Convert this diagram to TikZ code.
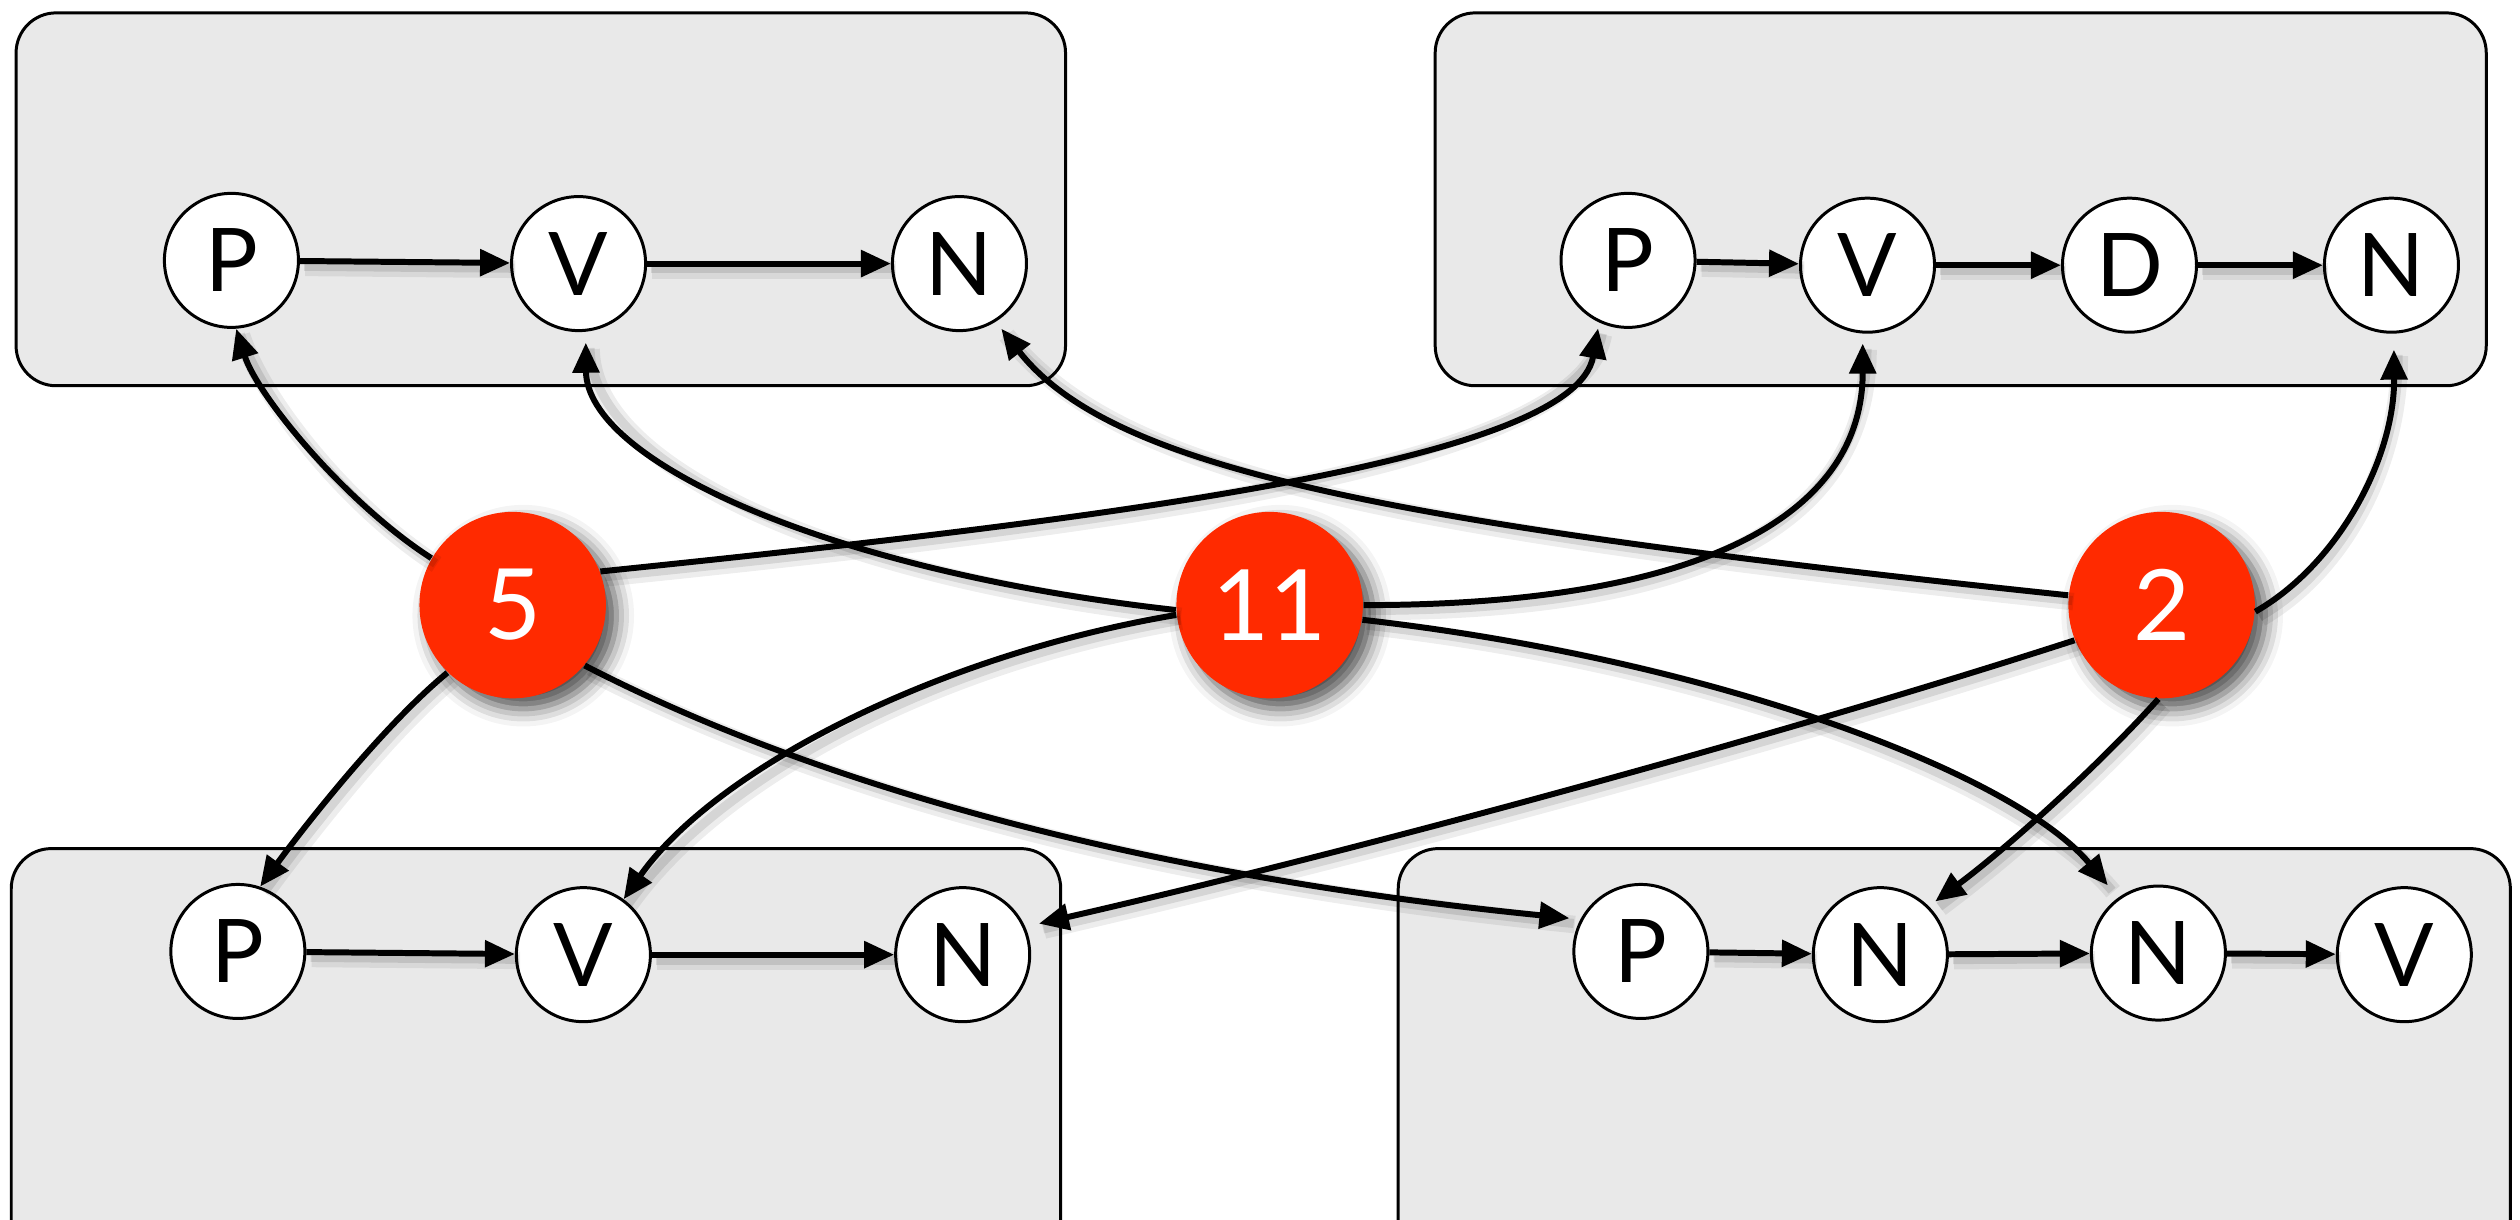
\documentclass[tikz,border=0pt]{standalone}
\usepackage{fontspec}
\setmainfont{Lato}
\usetikzlibrary{arrows.meta,shadows.blur}
\definecolor{panelgray}{RGB}{233,233,233}
\definecolor{countred}{RGB}{255,42,0}
\begin{document}
\begin{tikzpicture}[x=0.0160714cm,y=-0.0160714cm,
  panel/.style={draw=black, line width=0.85pt, fill=panelgray, rounded corners=0.4cm},
  tag/.style={circle, draw=black, line width=0.85pt, fill=white, minimum size=1.34cm,
    inner sep=0pt, font=\fontsize{25}{25}\selectfont},
  count/.style={circle, fill=countred, minimum size=1.864cm, inner sep=0pt, text=white,
    font=\fontsize{28}{28}\selectfont,
    blur shadow={shadow xshift=3pt, shadow yshift=-3pt, shadow blur radius=5pt, shadow opacity=70}},
  link/.style={line width=1.7pt, -{Triangle[length=0.3cm,width=0.26cm]},
    preaction={draw=black, -, opacity=0.07, line width=5pt,
      transform canvas={shift={(1.5pt,-1.8pt)}}},
    preaction={draw=black, -, opacity=0.1, line width=2.6pt,
      transform canvas={shift={(1.2pt,-1.5pt)}}}},
]
\clip (0,0) rectangle (1568,758.5);

% four sentence panels (the lower two run past the bottom edge)
\draw[panel] (10,8) rectangle (663,240);
\draw[panel] (893,8) rectangle (1547,240);
\draw[panel] (7,528) rectangle (660,800);
\draw[panel] (870,528) rectangle (1562,800);

% tag chains
\node[tag] (a1) at (144,162) {P};
\node[tag] (a2) at (360,164) {V};
\node[tag] (a3) at (597,164) {N};

\node[tag] (b1) at (1013,162) {P};
\node[tag] (b2) at (1162,165) {V};
\node[tag] (b3) at (1325,165) {D};
\node[tag] (b4) at (1488,165) {N};

\node[tag] (c1) at (148,592) {P};
\node[tag] (c2) at (363,594) {V};
\node[tag] (c3) at (599,594) {N};

\node[tag] (d1) at (1021,592) {P};
\node[tag] (d2) at (1170,594) {N};
\node[tag] (d3) at (1343,593) {N};
\node[tag] (d4) at (1496,594) {V};

\draw[link] (a1) -- (a2);
\draw[link] (a2) -- (a3);
\draw[link] (b1) -- (b2);
\draw[link] (b2) -- (b3);
\draw[link] (b3) -- (b4);
\draw[link] (c1) -- (c2);
\draw[link] (c2) -- (c3);
\draw[link] (d1) -- (d2);
\draw[link] (d2) -- (d3);
\draw[link] (d3) -- (d4);

% counts
\node[count] (r5) at (319,376.5) {5};
\node[count] (r11) at (790,376.5) {11};
\node[count] (r2) at (1345,376.5) {2};

% links from the count 5
\draw[link] (r5.150) .. controls (215,313) and (160,246) .. (a1.-86);
\draw[link, shorten >=0.06cm] (r5.21) .. controls (700,322) and (980,286) .. (b1.-115);
\draw[link] (r5.-134) .. controls (240,450) and (191,512) .. (c1.71);
\draw[link, shorten >=0.11cm] (r5.-40) .. controls (540,505) and (764,550) .. (d1.152);

% links from the count 11
\draw[link, shorten >=0.11cm] (r11.183) .. controls (512,355) and (365,286) .. (a2.-84);
\draw[link, shorten >=0.1cm] (r11.0) .. controls (1060,376.5) and (1159,320) .. (b2.-94);
\draw[link] (r11.186) .. controls (582.6,407.8) and (445,478.6) .. (c2.54);
\draw[link, shorten >=0.16cm] (r11.-9) .. controls (1063,410) and (1252,480) .. (d3.126);

% links from the count 2
\draw[link, shorten >=0.09cm] (r2.174) .. controls (851,324.5) and (690,290) .. (a3.-58);
\draw[link, shorten >=0.16cm] (r2.-4) .. controls (1455,351) and (1490,285) .. (b4.-88);
\draw[link, shorten >=0.14cm] (r2.202) .. controls (1110.6,456.7) and (850,528) .. (c3.24);
\draw[link, shorten >=0.08cm] (r2.-92) .. controls (1307,475) and (1251,526) .. (d2.45);
\end{tikzpicture}
\end{document}
